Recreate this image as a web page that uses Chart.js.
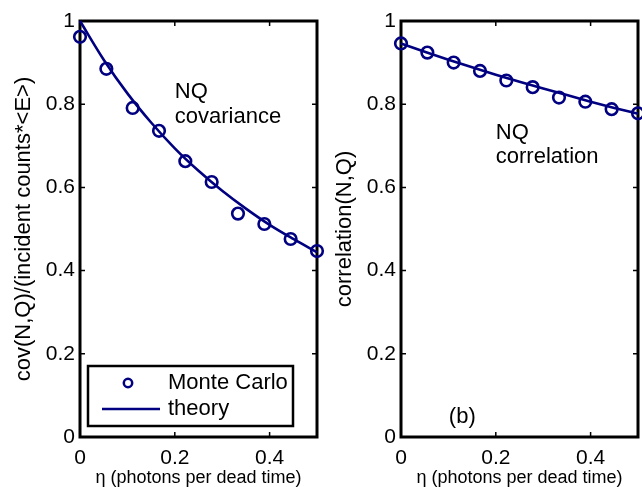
<!DOCTYPE html>
<html><head><meta charset="utf-8">
<script src="https://cdn.jsdelivr.net/npm/chart.js@4.4.1/dist/chart.umd.min.js"></script>
<style>
html,body{margin:0;padding:0;background:#fff;}
#wrap{position:relative;width:642px;height:487px;overflow:hidden;background:#fff;}
#wrap canvas{position:absolute;top:0;}
</style></head><body>
<div id="wrap">
<canvas id="c1" width="330" height="487" style="left:0"></canvas>
<canvas id="c2" width="330" height="487" style="left:321px"></canvas>
</div>
<script>
// ---- data ----
const etaMC      = [0, 0.0556, 0.1111, 0.1667, 0.2222, 0.2778, 0.3333, 0.3889, 0.4444, 0.5];
const covMC      = [0.962, 0.885, 0.791, 0.736, 0.663, 0.613, 0.537, 0.512, 0.476, 0.447];
const corrMC     = [0.946, 0.924, 0.900, 0.880, 0.857, 0.841, 0.816, 0.806, 0.788, 0.778];
const etaTheory  = [0, 0.05, 0.10, 0.15, 0.20, 0.25, 0.30, 0.35, 0.40, 0.45, 0.50];
const covTheory  = [1.000, 0.907, 0.826, 0.756, 0.694, 0.640, 0.592, 0.549, 0.510, 0.476, 0.444];
const corrTheory = [0.946, 0.926, 0.907, 0.889, 0.871, 0.854, 0.838, 0.822, 0.806, 0.791, 0.777];
const xTicks = [0, 0.2, 0.4];
const xTickLabels = ['0', '0.2', '0.4'];
const yTicks = [0, 0.2, 0.4, 0.6, 0.8, 1];
const yTickLabels = ['0', '0.2', '0.4', '0.6', '0.8', '1'];
const xTitle = 'η (photons per dead time)';
const yTitleLeft = 'cov(N,Q)/(incident counts*<E>)';
const yTitleRight = 'correlation(N,Q)';
const seriesNames = ['Monte Carlo', 'theory'];

const NAVY = '#000080';
const FONT = "'Liberation Sans', Arial, Helvetica, sans-serif";
Chart.defaults.font.family = FONT;
Chart.defaults.color = '#000';

function pts(xs, ys) { return xs.map((v, i) => ({x: v, y: ys[i]})); }

const framePlugin = {
  id: 'frameTicks',
  beforeDatasetsDraw(chart) {
    const {ctx, chartArea: a, scales: {x, y}} = chart;
    ctx.save();
    ctx.strokeStyle = '#000';
    ctx.lineWidth = 1.5;
    const L = 5;
    ctx.beginPath();
    xTicks.forEach(v => {
      const p = x.getPixelForValue(v);
      ctx.moveTo(p, a.bottom); ctx.lineTo(p, a.bottom - L);
      ctx.moveTo(p, a.top); ctx.lineTo(p, a.top + L);
    });
    yTicks.forEach(v => {
      const p = y.getPixelForValue(v);
      ctx.moveTo(a.left, p); ctx.lineTo(a.left + L, p);
      ctx.moveTo(a.right, p); ctx.lineTo(a.right - L, p);
    });
    ctx.stroke();
    ctx.lineWidth = 3;
    ctx.strokeRect(a.left, a.top, a.right - a.left, a.bottom - a.top);
    ctx.restore();
  }
};

const textPlugin = {
  id: 'notes',
  afterDatasetsDraw(chart, args, opts) {
    const {ctx, scales: {x, y}} = chart;
    ctx.save();
    ctx.fillStyle = '#000';
    ctx.font = '22px ' + FONT;
    ctx.textAlign = 'left';
    ctx.textBaseline = 'middle';
    (opts.items || []).forEach(it => {
      ctx.fillText(it.text, x.getPixelForValue(it.x), y.getPixelForValue(it.y));
    });
    if (opts.legend) {
      const a = chart.chartArea;
      const bx = a.left + 8, by = a.bottom - 71, bw = 205, bh = 60;
      ctx.fillStyle = '#fff';
      ctx.fillRect(bx, by, bw, bh);
      ctx.strokeStyle = '#000';
      ctx.lineWidth = 2.5;
      ctx.strokeRect(bx, by, bw, bh);
      const ds = chart.data.datasets;
      const mc = ds[1], th = ds[0];
      ctx.strokeStyle = mc.borderColor;
      ctx.lineWidth = 2.5;
      ctx.beginPath();
      ctx.arc(bx + 40, by + 17, 4.2, 0, Math.PI * 2);
      ctx.stroke();
      ctx.strokeStyle = th.borderColor;
      ctx.lineWidth = th.borderWidth;
      ctx.beginPath();
      ctx.moveTo(bx + 14, by + 43); ctx.lineTo(bx + 72, by + 43);
      ctx.stroke();
      ctx.fillStyle = '#000';
      ctx.fillText(mc.label, bx + 80, by + 17);
      ctx.fillText(th.label, bx + 80, by + 43);
    }
    ctx.restore();
  }
};

function makeChart(id, mcVals, thVals, yTitle, rightPad, notes) {
  return new Chart(document.getElementById(id), {
    type: 'scatter',
    data: {
      datasets: [
        {
          label: seriesNames[1], type: 'line', data: pts(etaTheory, thVals),
          borderColor: NAVY, borderWidth: 2.6, pointRadius: 0, fill: false,
          cubicInterpolationMode: 'monotone', clip: false
        },
        {
          label: seriesNames[0], data: pts(etaMC, mcVals), showLine: false,
          pointRadius: 5.8, pointBorderWidth: 2.6, pointBorderColor: NAVY,
          pointBackgroundColor: 'rgba(0,0,0,0)', borderColor: NAVY, clip: false
        }
      ]
    },
    options: {
      responsive: false, animation: false, devicePixelRatio: 1,
      layout: {padding: {top: 21, right: rightPad, bottom: 0, left: 0}},
      plugins: {legend: {display: false}, tooltip: {enabled: false}, notes: notes},
      scales: {
        x: {
          type: 'linear', position: 'bottom', min: 0, max: 0.5,
          grid: {display: false, drawTicks: false}, border: {display: false},
          afterBuildTicks: s => { s.ticks = xTicks.map(v => ({value: v})); },
          ticks: {autoSkip: false, maxRotation: 0, padding: 9, font: {size: 21},
                  callback: (v, i) => xTickLabels[i]},
          title: {display: true, text: xTitle, font: {size: 18}, padding: {top: 0, bottom: -2}},
          afterFit: s => { s.height = 50; s.paddingLeft = 0; s.paddingRight = 0; }
        },
        y: {
          type: 'linear', position: 'left', min: 0, max: 1,
          grid: {display: false, drawTicks: false}, border: {display: false},
          afterBuildTicks: s => { s.ticks = yTicks.map(v => ({value: v})); },
          ticks: {autoSkip: false, padding: 5, font: {size: 21},
                  callback: (v, i) => yTickLabels[i]},
          title: {display: true, text: yTitle, font: {size: 22}, padding: {top: 11, bottom: 0}},
          afterFit: s => { s.width = 80; s.paddingTop = 0; s.paddingBottom = 0; }
        }
      }
    },
    plugins: [framePlugin, textPlugin]
  });
}

makeChart('c1', covMC, covTheory, yTitleLeft, 13, {
  items: [{text: 'NQ', x: 0.2, y: 0.829}, {text: 'covariance', x: 0.2, y: 0.769}],
  legend: true
});
makeChart('c2', corrMC, corrTheory, yTitleRight, 13, {
  items: [{text: 'NQ', x: 0.2, y: 0.731}, {text: 'correlation', x: 0.2, y: 0.673},
          {text: '(b)', x: 0.101, y: 0.048}],
  legend: false
});
</script>
</body></html>
